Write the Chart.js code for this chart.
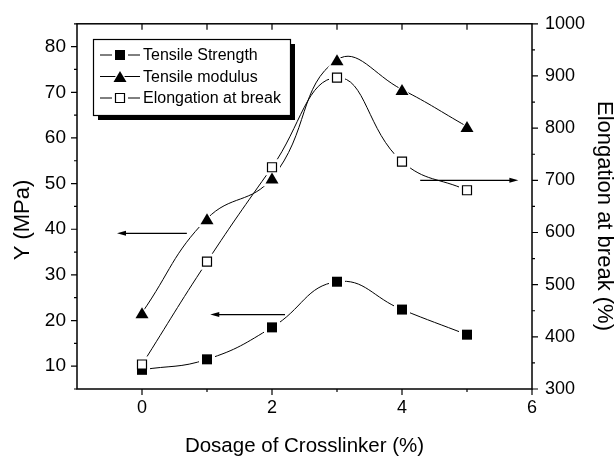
<!DOCTYPE html>
<html>
<head>
<meta charset="utf-8">
<title>Crosslinker dosage</title>
<script src="https://cdn.jsdelivr.net/npm/chart.js@4.4.1/dist/chart.umd.min.js"></script>
<style>
  html, body { margin: 0; padding: 0; background: #fff; }
  #wrap { width: 616px; height: 457px; }
</style>
</head>
<body>
<div id="wrap"><canvas id="chart" width="616" height="457"></canvas></div>
<script>
// data
var dosage = [0, 1, 2, 3, 4, 5];
var tensileStrength = [9.2, 11.5, 18.5, 28.5, 22.4, 16.9];
var tensileModulus = [21.7, 42.3, 51.2, 77.1, 70.6, 62.5];
var elongation = [347, 544, 725, 897, 736, 681];

var xTicks = [0, 2, 4, 6];
var yTicks = [10, 20, 30, 40, 50, 60, 70, 80];
var y2Ticks = [300, 400, 500, 600, 700, 800, 900, 1000];

// arrows pointing at the axis each curve belongs to
var arrowFromX = [0.69, 2.2, 4.28];
var arrowToX = [-0.385, 1.05, 5.79];
var arrowAt = [39.1, 21.3, 700];
var arrowAxis = ['y', 'y', 'y2'];

var yTitle = 'Y (MPa)';
var y2Title = 'Elongation at break (%)';

var FONT = "'Liberation Sans', Arial, sans-serif";

let pts = (ys) => dosage.map((x, i) => ({x: x, y: ys[i]}));

// marker shapes
let markerPath = (ctx, style, x, y, grow) => {
    ctx.beginPath();
    if (style === 'triangle') {
        let w = 13 + grow * 1.8, h = 11 + grow * 1.8;
        ctx.moveTo(x, y - h / 2);
        ctx.lineTo(x + w / 2, y + h / 2);
        ctx.lineTo(x - w / 2, y + h / 2);
        ctx.closePath();
    } else {
        let s = 10 + grow * 2;
        ctx.rect(x - s / 2, y - s / 2, s, s);
    }
};

let drawHalo = (ctx, ds, x, y) => {
    ctx.fillStyle = '#fff';
    markerPath(ctx, ds.marker, x, y, 3);
    ctx.fill();
};

let drawMarker = (ctx, ds, x, y) => {
    if (ds.hollow) {
        markerPath(ctx, ds.marker, x, y, -0.5);
        ctx.fillStyle = '#fff';
        ctx.fill();
        ctx.lineWidth = 1.2;
        ctx.strokeStyle = '#000';
        ctx.stroke();
    } else {
        markerPath(ctx, ds.marker, x, y, 0);
        ctx.fillStyle = '#000';
        ctx.fill();
    }
};

// markers with a white gap round them, like the original plot
var markerPlugin = {
    id: 'markers',
    afterDatasetsDraw(chart) {
        let ctx = chart.ctx;
        ctx.save();
        chart.data.datasets.forEach((ds, i) => {
            chart.getDatasetMeta(i).data.forEach(p => drawHalo(ctx, ds, p.x, p.y));
        });
        chart.data.datasets.forEach((ds, i) => {
            chart.getDatasetMeta(i).data.forEach(p => drawMarker(ctx, ds, p.x, p.y));
        });
        ctx.restore();
    }
};

// frame, ticks, arrows, side titles and the boxed legend
var decorPlugin = {
    id: 'decor',
    afterDraw(chart) {
        let ctx = chart.ctx;
        let a = chart.chartArea;
        let sx = chart.scales.x, sy = chart.scales.y, sy2 = chart.scales.y2;
        ctx.save();
        ctx.strokeStyle = '#000';
        ctx.fillStyle = '#000';

        ctx.lineWidth = 1.5;
        ctx.strokeRect(a.left, a.top, a.right - a.left, a.bottom - a.top);

        ctx.lineWidth = 1.2;
        ctx.beginPath();
        // bottom ticks point out, top ticks point in
        for (let v = -1; v <= 6; v++) {
            let px = sx.getPixelForValue(v);
            let len = (v % 2 === 0) ? 6 : 3;
            if (v > -1 && v < 6) {
                ctx.moveTo(px, a.bottom);
                ctx.lineTo(px, a.bottom + len);
                ctx.moveTo(px, a.top);
                ctx.lineTo(px, a.top + 6);
            } else if (v === 6) {
                ctx.moveTo(px, a.bottom);
                ctx.lineTo(px, a.bottom + 6);
            }
        }
        for (let v = 5; v <= 85; v += 5) {
            let py = sy.getPixelForValue(v);
            let len = (v % 10 === 0) ? 6 : 3;
            ctx.moveTo(a.left, py);
            ctx.lineTo(a.left - len, py);
        }
        for (let v = 300; v <= 1000; v += 50) {
            let py = sy2.getPixelForValue(v);
            let len = (v % 100 === 0) ? 6 : 3;
            ctx.moveTo(a.right, py);
            ctx.lineTo(a.right + len, py);
        }
        ctx.stroke();

        // arrows
        ctx.lineWidth = 1.3;
        arrowAt.forEach((v, i) => {
            let scale = arrowAxis[i] === 'y' ? sy : sy2;
            let py = scale.getPixelForValue(v);
            let x1 = sx.getPixelForValue(arrowFromX[i]);
            let x2 = sx.getPixelForValue(arrowToX[i]);
            let dir = x2 > x1 ? 1 : -1;
            ctx.beginPath();
            ctx.moveTo(x1, py);
            ctx.lineTo(x2 - dir * 6, py);
            ctx.stroke();
            ctx.beginPath();
            ctx.moveTo(x2, py);
            ctx.lineTo(x2 - dir * 9, py - 2.5);
            ctx.lineTo(x2 - dir * 9, py + 2.5);
            ctx.closePath();
            ctx.fill();
        });

        // side titles (sit a little below the axis middle in the original)
        ctx.font = '22px ' + FONT;
        ctx.textAlign = 'center';
        ctx.textBaseline = 'middle';
        ctx.save();
        ctx.translate(23, 220);
        ctx.rotate(-Math.PI / 2);
        ctx.fillText(yTitle, 0, 0);
        ctx.restore();
        ctx.save();
        ctx.translate(604, 216);
        ctx.rotate(Math.PI / 2);
        ctx.fillText(y2Title, 0, 0);
        ctx.restore();

        // legend box with shadow
        let bx = 93, by = 39, bw = 197, bh = 76;
        ctx.fillStyle = '#000';
        ctx.fillRect(bx + 5, by + 5, bw, bh);
        ctx.fillStyle = '#fff';
        ctx.fillRect(bx, by, bw, bh);
        ctx.lineWidth = 1.2;
        ctx.strokeRect(bx + 0.5, by + 0.5, bw, bh);

        ctx.font = '16px ' + FONT;
        ctx.textAlign = 'left';
        ctx.textBaseline = 'middle';
        chart.data.datasets.forEach((ds, i) => {
            let ry = by + 16 + i * 21.5;
            ctx.strokeStyle = '#000';
            ctx.lineWidth = 1;
            ctx.beginPath();
            ctx.moveTo(bx + 7, ry);
            ctx.lineTo(bx + 47, ry);
            ctx.stroke();
            drawHalo(ctx, ds, bx + 27, ry);
            drawMarker(ctx, ds, bx + 27, ry);
            ctx.fillStyle = '#000';
            ctx.fillText(ds.label, bx + 50, ry + 1);
        });
        ctx.restore();
    }
};

let lineSet = (label, ys, axis, marker, hollow) => ({
    label: label,
    data: pts(ys),
    yAxisID: axis,
    borderColor: '#000',
    borderWidth: 1,
    tension: 0.45,
    pointRadius: 0,
    fill: false,
    marker: marker,
    hollow: hollow
});

let plain = (v) => String(v);

var ctx1 = document.querySelector('#chart');
var myChart = new Chart(ctx1, {
    type: 'line',
    data: {
        datasets: [
            lineSet('Tensile Strength', tensileStrength, 'y', 'rect', false),
            lineSet('Tensile modulus', tensileModulus, 'y', 'triangle', false),
            lineSet('Elongation at break', elongation, 'y2', 'rect', true)
        ]
    },
    options: {
        responsive: false,
        animation: false,
        events: [],
        layout: { padding: { top: 19, left: 0, right: 0, bottom: 0 } },
        plugins: { legend: { display: false }, tooltip: { enabled: false } },
        scales: {
            x: {
                type: 'linear',
                min: -1,
                max: 6,
                grid: { display: false, drawTicks: false },
                border: { display: false },
                afterBuildTicks: (s) => { s.ticks = xTicks.map(v => ({value: v})); },
                afterFit: (s) => { s.height = 68; },
                ticks: { color: '#000', padding: 8, callback: plain, font: { family: FONT, size: 18 } },
                title: {
                    display: true,
                    text: 'Dosage of Crosslinker (%)',
                    color: '#000',
                    padding: { top: 0, bottom: 0 },
                    font: { family: FONT, size: 20.5, lineHeight: 1 }
                }
            },
            y: {
                position: 'left',
                min: 5,
                max: 85,
                grid: { display: false, drawTicks: false },
                border: { display: false },
                afterBuildTicks: (s) => { s.ticks = yTicks.map(v => ({value: v})); },
                afterFit: (s) => { s.width = 77; },
                ticks: { color: '#000', padding: 11, callback: plain, font: { family: FONT, size: 19 } },
                title: { display: false }
            },
            y2: {
                position: 'right',
                min: 300,
                max: 1000,
                grid: { display: false, drawTicks: false },
                border: { display: false },
                afterBuildTicks: (s) => { s.ticks = y2Ticks.map(v => ({value: v})); },
                afterFit: (s) => { s.width = 84; },
                ticks: { color: '#000', padding: 13, callback: plain, font: { family: FONT, size: 18 } },
                title: { display: false }
            }
        }
    },
    plugins: [markerPlugin, decorPlugin]
});
</script>
</body>
</html>
